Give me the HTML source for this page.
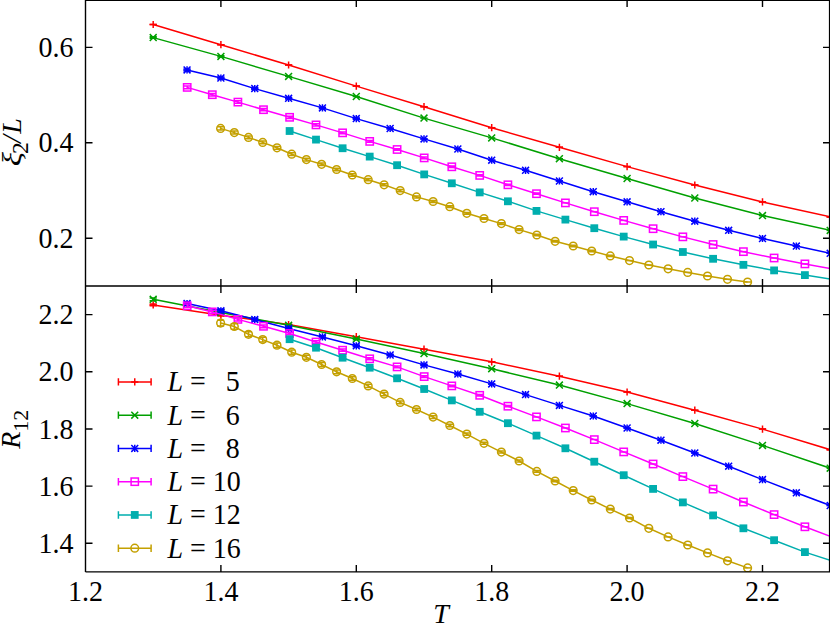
<!DOCTYPE html>
<html><head><meta charset="utf-8"><title>plot</title>
<style>html,body{margin:0;padding:0;background:#fff;}body{width:830px;height:623px;overflow:hidden;font-family:"Liberation Serif",serif;}</style>
</head><body>
<svg width="830" height="623" viewBox="0 0 830 623" style="display:block">
<rect width="830" height="623" fill="#fff"/>
<defs><clipPath id="ct"><rect x="85.5" y="0" width="744.5" height="286"/></clipPath><clipPath id="cb"><rect x="85.5" y="286" width="744.5" height="285.9"/></clipPath></defs>
<g clip-path="url(#ct)"><g stroke="#ff0000" stroke-width="1.5" fill="none"><polyline points="153.2,24.5 220.9,44.7 288.6,65 356.3,86.1 424,106.7 491.7,127.7 559.4,147.3 627.1,166.6 694.8,185 762.5,201.9 830.2,216.9"/><path d="M149.6 24.5H156.8"/><path d="M149.6 24.5H156.8M153.2 20.9V28.1"/><path d="M217.3 44.7H224.5"/><path d="M217.3 44.7H224.5M220.9 41.1V48.3"/><path d="M285 65H292.2"/><path d="M285 65H292.2M288.6 61.4V68.6"/><path d="M352.7 86.1H359.9"/><path d="M352.7 86.1H359.9M356.3 82.5V89.7"/><path d="M420.4 106.7H427.6"/><path d="M420.4 106.7H427.6M424 103.1V110.3"/><path d="M488.1 127.7H495.3"/><path d="M488.1 127.7H495.3M491.7 124.1V131.3"/><path d="M555.8 147.3H563"/><path d="M555.8 147.3H563M559.4 143.7V150.9"/><path d="M623.5 166.6H630.7"/><path d="M623.5 166.6H630.7M627.1 163V170.2"/><path d="M691.2 185H698.4"/><path d="M691.2 185H698.4M694.8 181.4V188.6"/><path d="M758.9 201.9H766.1"/><path d="M758.9 201.9H766.1M762.5 198.3V205.5"/><path d="M826.6 216.9H833.8"/><path d="M826.6 216.9H833.8M830.2 213.3V220.5"/></g>
<g stroke="#00a000" stroke-width="1.5" fill="none"><polyline points="153.2,37.6 220.9,56.4 288.6,76.4 356.3,96.5 424,118.1 491.7,137.9 559.4,158.7 627.1,178.5 694.8,198 762.5,215.6 830.2,230.4"/><path d="M149.6 36.84H156.8M149.6 38.36H156.8M153.2 36.84V38.36"/><path d="M149.75 34.15L156.65 41.05M149.75 41.05L156.65 34.15"/><path d="M217.3 55.75H224.5M217.3 57.05H224.5M220.9 55.75V57.05"/><path d="M217.45 52.95L224.35 59.85M217.45 59.85L224.35 52.95"/><path d="M285 76.4H292.2"/><path d="M285.15 72.95L292.05 79.85M285.15 79.85L292.05 72.95"/><path d="M352.7 96.5H359.9"/><path d="M352.85 93.05L359.75 99.95M352.85 99.95L359.75 93.05"/><path d="M420.4 118.1H427.6"/><path d="M420.55 114.65L427.45 121.55M420.55 121.55L427.45 114.65"/><path d="M488.1 137.9H495.3"/><path d="M488.25 134.45L495.15 141.35M488.25 141.35L495.15 134.45"/><path d="M555.8 158.7H563"/><path d="M555.95 155.25L562.85 162.15M555.95 162.15L562.85 155.25"/><path d="M623.5 178.5H630.7"/><path d="M623.65 175.05L630.55 181.95M623.65 181.95L630.55 175.05"/><path d="M691.2 198H698.4"/><path d="M691.35 194.55L698.25 201.45M691.35 201.45L698.25 194.55"/><path d="M758.9 215.6H766.1"/><path d="M759.05 212.15L765.95 219.05M759.05 219.05L765.95 212.15"/><path d="M826.6 230.4H833.8"/><path d="M826.75 226.95L833.65 233.85M826.75 233.85L833.65 226.95"/></g>
<g stroke="#0000ff" stroke-width="1.5" fill="none"><polyline points="187.05,69.9 220.9,78 254.75,88.6 288.6,98.3 322.45,107.9 356.3,118.6 390.15,128.5 424,138.9 457.85,149 491.7,160.2 525.55,170.3 559.4,181 593.25,191.7 627.1,201.8 660.95,211.7 694.8,221.2 728.65,230.3 762.5,238.5 796.35,246.1 830.2,253.3"/><path d="M183.45 68.9H190.65M183.45 70.9H190.65M187.05 68.9V70.9"/><path d="M183.45 69.9H190.65M187.05 66.3V73.5"/><path d="M183.6 66.45L190.5 73.35M183.6 73.35L190.5 66.45"/><path d="M217.3 77.08H224.5M217.3 78.92H224.5M220.9 77.08V78.92"/><path d="M217.3 78H224.5M220.9 74.4V81.6"/><path d="M217.45 74.55L224.35 81.45M217.45 81.45L224.35 74.55"/><path d="M251.15 87.75H258.35M251.15 89.45H258.35M254.75 87.75V89.45"/><path d="M251.15 88.6H258.35M254.75 85V92.2"/><path d="M251.3 85.15L258.2 92.05M251.3 92.05L258.2 85.15"/><path d="M285 97.51H292.2M285 99.09H292.2M288.6 97.51V99.09"/><path d="M285 98.3H292.2M288.6 94.7V101.9"/><path d="M285.15 94.85L292.05 101.75M285.15 101.75L292.05 94.85"/><path d="M318.85 107.17H326.05M318.85 108.63H326.05M322.45 107.17V108.63"/><path d="M318.85 107.9H326.05M322.45 104.3V111.5"/><path d="M319 104.45L325.9 111.35M319 111.35L325.9 104.45"/><path d="M352.7 117.93H359.9M352.7 119.27H359.9M356.3 117.93V119.27"/><path d="M352.7 118.6H359.9M356.3 115V122.2"/><path d="M352.85 115.15L359.75 122.05M352.85 122.05L359.75 115.15"/><path d="M386.55 127.88H393.75M386.55 129.12H393.75M390.15 127.88V129.12"/><path d="M386.55 128.5H393.75M390.15 124.9V132.1"/><path d="M386.7 125.05L393.6 131.95M386.7 131.95L393.6 125.05"/><path d="M420.4 138.9H427.6"/><path d="M420.4 138.9H427.6M424 135.3V142.5"/><path d="M420.55 135.45L427.45 142.35M420.55 142.35L427.45 135.45"/><path d="M454.25 149H461.45"/><path d="M454.25 149H461.45M457.85 145.4V152.6"/><path d="M454.4 145.55L461.3 152.45M454.4 152.45L461.3 145.55"/><path d="M488.1 160.2H495.3"/><path d="M488.1 160.2H495.3M491.7 156.6V163.8"/><path d="M488.25 156.75L495.15 163.65M488.25 163.65L495.15 156.75"/><path d="M521.95 170.3H529.15"/><path d="M521.95 170.3H529.15M525.55 166.7V173.9"/><path d="M522.1 166.85L529 173.75M522.1 173.75L529 166.85"/><path d="M555.8 181H563"/><path d="M555.8 181H563M559.4 177.4V184.6"/><path d="M555.95 177.55L562.85 184.45M555.95 184.45L562.85 177.55"/><path d="M589.65 191.7H596.85"/><path d="M589.65 191.7H596.85M593.25 188.1V195.3"/><path d="M589.8 188.25L596.7 195.15M589.8 195.15L596.7 188.25"/><path d="M623.5 201.8H630.7"/><path d="M623.5 201.8H630.7M627.1 198.2V205.4"/><path d="M623.65 198.35L630.55 205.25M623.65 205.25L630.55 198.35"/><path d="M657.35 211.7H664.55"/><path d="M657.35 211.7H664.55M660.95 208.1V215.3"/><path d="M657.5 208.25L664.4 215.15M657.5 215.15L664.4 208.25"/><path d="M691.2 221.2H698.4"/><path d="M691.2 221.2H698.4M694.8 217.6V224.8"/><path d="M691.35 217.75L698.25 224.65M691.35 224.65L698.25 217.75"/><path d="M725.05 230.3H732.25"/><path d="M725.05 230.3H732.25M728.65 226.7V233.9"/><path d="M725.2 226.85L732.1 233.75M725.2 233.75L732.1 226.85"/><path d="M758.9 238.5H766.1"/><path d="M758.9 238.5H766.1M762.5 234.9V242.1"/><path d="M759.05 235.05L765.95 241.95M759.05 241.95L765.95 235.05"/><path d="M792.75 246.1H799.95"/><path d="M792.75 246.1H799.95M796.35 242.5V249.7"/><path d="M792.9 242.65L799.8 249.55M792.9 249.55L799.8 242.65"/><path d="M826.6 253.3H833.8"/><path d="M826.6 253.3H833.8M830.2 249.7V256.9"/><path d="M826.75 249.85L833.65 256.75M826.75 256.75L833.65 249.85"/></g>
<g stroke="#ff00ff" stroke-width="1.5" fill="none"><polyline points="187.2,87.4 212.3,94.7 237.9,102.1 263.5,109.7 289.6,117.3 316,124.9 342.6,132.85 369.7,141.4 397.1,149.5 424.2,157.9 451.8,166.8 479.7,175.4 507.9,184.8 536.5,193.7 565.4,202.9 594.3,211.7 623.7,220.4 653.1,228.7 682.85,236.85 713.1,244.5 743.4,251.65 774.1,258 804.9,263.9 836,269.5"/><path d="M183.6 86H190.8M183.6 88.8H190.8M187.2 86V88.8"/><rect x="183.55" y="83.75" width="7.3" height="7.3" fill="none"/><path d="M208.7 93.38H215.9M208.7 96.02H215.9M212.3 93.38V96.02"/><rect x="208.65" y="91.05" width="7.3" height="7.3" fill="none"/><path d="M234.3 100.86H241.5M234.3 103.34H241.5M237.9 100.86V103.34"/><rect x="234.25" y="98.45" width="7.3" height="7.3" fill="none"/><path d="M259.9 108.53H267.1M259.9 110.87H267.1M263.5 108.53V110.87"/><rect x="259.85" y="106.05" width="7.3" height="7.3" fill="none"/><path d="M286 116.2H293.2M286 118.4H293.2M289.6 116.2V118.4"/><rect x="285.95" y="113.65" width="7.3" height="7.3" fill="none"/><path d="M312.4 123.87H319.6M312.4 125.93H319.6M316 123.87V125.93"/><rect x="312.35" y="121.25" width="7.3" height="7.3" fill="none"/><path d="M339 131.88H346.2M339 133.82H346.2M342.6 131.88V133.82"/><rect x="338.95" y="129.2" width="7.3" height="7.3" fill="none"/><path d="M366.1 140.49H373.3M366.1 142.31H373.3M369.7 140.49V142.31"/><rect x="366.05" y="137.75" width="7.3" height="7.3" fill="none"/><path d="M393.5 148.65H400.7M393.5 150.35H400.7M397.1 148.65V150.35"/><rect x="393.45" y="145.85" width="7.3" height="7.3" fill="none"/><path d="M420.6 157.1H427.8M420.6 158.7H427.8M424.2 157.1V158.7"/><rect x="420.55" y="154.25" width="7.3" height="7.3" fill="none"/><path d="M448.2 166.05H455.4M448.2 167.55H455.4M451.8 166.05V167.55"/><rect x="448.15" y="163.15" width="7.3" height="7.3" fill="none"/><path d="M476.1 174.7H483.3M476.1 176.1H483.3M479.7 174.7V176.1"/><rect x="476.05" y="171.75" width="7.3" height="7.3" fill="none"/><path d="M504.3 184.14H511.5M504.3 185.46H511.5M507.9 184.14V185.46"/><rect x="504.25" y="181.15" width="7.3" height="7.3" fill="none"/><path d="M532.9 193.09H540.1M532.9 194.31H540.1M536.5 193.09V194.31"/><rect x="532.85" y="190.05" width="7.3" height="7.3" fill="none"/><path d="M561.8 202.9H569"/><rect x="561.75" y="199.25" width="7.3" height="7.3" fill="none"/><path d="M590.7 211.7H597.9"/><rect x="590.65" y="208.05" width="7.3" height="7.3" fill="none"/><path d="M620.1 220.4H627.3"/><rect x="620.05" y="216.75" width="7.3" height="7.3" fill="none"/><path d="M649.5 228.7H656.7"/><rect x="649.45" y="225.05" width="7.3" height="7.3" fill="none"/><path d="M679.25 236.85H686.45"/><rect x="679.2" y="233.2" width="7.3" height="7.3" fill="none"/><path d="M709.5 244.5H716.7"/><rect x="709.45" y="240.85" width="7.3" height="7.3" fill="none"/><path d="M739.8 251.65H747"/><rect x="739.75" y="248" width="7.3" height="7.3" fill="none"/><path d="M770.5 258H777.7"/><rect x="770.45" y="254.35" width="7.3" height="7.3" fill="none"/><path d="M801.3 263.9H808.5"/><rect x="801.25" y="260.25" width="7.3" height="7.3" fill="none"/><path d="M832.4 269.5H839.6"/><rect x="832.35" y="265.85" width="7.3" height="7.3" fill="none"/></g>
<g stroke="#00aeae" stroke-width="1.5" fill="none"><polyline points="289.6,131 316,139.6 342.6,148.25 369.7,156.6 397.1,165.2 424.2,174.4 451.8,183.3 479.7,192.4 507.9,201.3 536.5,210.9 565.4,219.6 594.3,228.2 623.7,236.6 653.1,244.5 682.85,252 713.1,258.8 743.4,264.85 774.1,270.4 804.9,275.1 836,279.8"/><path d="M286 130.29H293.2M286 131.71H293.2M289.6 130.29V131.71"/><rect x="285.7" y="127.1" width="7.8" height="7.8" fill="#00aeae" stroke="none"/><path d="M312.4 138.94H319.6M312.4 140.26H319.6M316 138.94V140.26"/><rect x="312.1" y="135.7" width="7.8" height="7.8" fill="#00aeae" stroke="none"/><path d="M339 147.63H346.2M339 148.87H346.2M342.6 147.63V148.87"/><rect x="338.7" y="144.35" width="7.8" height="7.8" fill="#00aeae" stroke="none"/><path d="M366.1 156.6H373.3"/><rect x="365.8" y="152.7" width="7.8" height="7.8" fill="#00aeae" stroke="none"/><path d="M393.5 165.2H400.7"/><rect x="393.2" y="161.3" width="7.8" height="7.8" fill="#00aeae" stroke="none"/><path d="M420.6 174.4H427.8"/><rect x="420.3" y="170.5" width="7.8" height="7.8" fill="#00aeae" stroke="none"/><path d="M448.2 183.3H455.4"/><rect x="447.9" y="179.4" width="7.8" height="7.8" fill="#00aeae" stroke="none"/><path d="M476.1 192.4H483.3"/><rect x="475.8" y="188.5" width="7.8" height="7.8" fill="#00aeae" stroke="none"/><path d="M504.3 201.3H511.5"/><rect x="504" y="197.4" width="7.8" height="7.8" fill="#00aeae" stroke="none"/><path d="M532.9 210.9H540.1"/><rect x="532.6" y="207" width="7.8" height="7.8" fill="#00aeae" stroke="none"/><path d="M561.8 219.6H569"/><rect x="561.5" y="215.7" width="7.8" height="7.8" fill="#00aeae" stroke="none"/><path d="M590.7 228.2H597.9"/><rect x="590.4" y="224.3" width="7.8" height="7.8" fill="#00aeae" stroke="none"/><path d="M620.1 236.6H627.3"/><rect x="619.8" y="232.7" width="7.8" height="7.8" fill="#00aeae" stroke="none"/><path d="M649.5 244.5H656.7"/><rect x="649.2" y="240.6" width="7.8" height="7.8" fill="#00aeae" stroke="none"/><path d="M679.25 252H686.45"/><rect x="678.95" y="248.1" width="7.8" height="7.8" fill="#00aeae" stroke="none"/><path d="M709.5 258.8H716.7"/><rect x="709.2" y="254.9" width="7.8" height="7.8" fill="#00aeae" stroke="none"/><path d="M739.8 264.85H747"/><rect x="739.5" y="260.95" width="7.8" height="7.8" fill="#00aeae" stroke="none"/><path d="M770.5 270.4H777.7"/><rect x="770.2" y="266.5" width="7.8" height="7.8" fill="#00aeae" stroke="none"/><path d="M801.3 275.1H808.5"/><rect x="801" y="271.2" width="7.8" height="7.8" fill="#00aeae" stroke="none"/><path d="M832.4 279.8H839.6"/><rect x="832.1" y="275.9" width="7.8" height="7.8" fill="#00aeae" stroke="none"/></g>
<g stroke="#c4a000" stroke-width="1.5" fill="none"><polyline points="220.6,128.4 234.3,132.6 248.5,137.4 262.7,142.4 277,147.8 291.7,154.2 306.4,159.6 321.6,164.3 336.6,169.5 352.3,175 368.2,179.7 384.1,184.8 400.2,190.6 416.5,196.9 433.1,201.5 449.8,206.7 466.8,213.3 484,218.5 501.4,223.6 519.1,229.6 536.8,235 555.1,241.3 573.2,246 591.7,251 610.3,255.9 629.5,260.6 648.8,265 668.1,268.8 687.7,272.4 707.5,276 727.5,279.3 747.6,282"/><path d="M217 126.83H224.2M217 129.97H224.2M220.6 126.83V129.97"/><circle cx="220.6" cy="128.4" r="3.85" fill="none"/><path d="M230.7 131.08H237.9M230.7 134.12H237.9M234.3 131.08V134.12"/><circle cx="234.3" cy="132.6" r="3.85" fill="none"/><path d="M244.9 135.93H252.1M244.9 138.87H252.1M248.5 135.93V138.87"/><circle cx="248.5" cy="137.4" r="3.85" fill="none"/><path d="M259.1 140.98H266.3M259.1 143.82H266.3M262.7 140.98V143.82"/><circle cx="262.7" cy="142.4" r="3.85" fill="none"/><path d="M273.4 146.43H280.6M273.4 149.17H280.6M277 146.43V149.17"/><circle cx="277" cy="147.8" r="3.85" fill="none"/><path d="M288.1 152.87H295.3M288.1 155.53H295.3M291.7 152.87V155.53"/><circle cx="291.7" cy="154.2" r="3.85" fill="none"/><path d="M302.8 158.32H310M302.8 160.88H310M306.4 158.32V160.88"/><circle cx="306.4" cy="159.6" r="3.85" fill="none"/><path d="M318 163.06H325.2M318 165.54H325.2M321.6 163.06V165.54"/><circle cx="321.6" cy="164.3" r="3.85" fill="none"/><path d="M333 168.31H340.2M333 170.69H340.2M336.6 168.31V170.69"/><circle cx="336.6" cy="169.5" r="3.85" fill="none"/><path d="M348.7 173.85H355.9M348.7 176.15H355.9M352.3 173.85V176.15"/><circle cx="352.3" cy="175" r="3.85" fill="none"/><path d="M364.6 178.59H371.8M364.6 180.81H371.8M368.2 178.59V180.81"/><circle cx="368.2" cy="179.7" r="3.85" fill="none"/><path d="M380.5 183.73H387.7M380.5 185.87H387.7M384.1 183.73V185.87"/><circle cx="384.1" cy="184.8" r="3.85" fill="none"/><path d="M396.6 189.57H403.8M396.6 191.63H403.8M400.2 189.57V191.63"/><circle cx="400.2" cy="190.6" r="3.85" fill="none"/><path d="M412.9 195.91H420.1M412.9 197.89H420.1M416.5 195.91V197.89"/><circle cx="416.5" cy="196.9" r="3.85" fill="none"/><path d="M429.5 200.55H436.7M429.5 202.45H436.7M433.1 200.55V202.45"/><circle cx="433.1" cy="201.5" r="3.85" fill="none"/><path d="M446.2 205.79H453.4M446.2 207.61H453.4M449.8 205.79V207.61"/><circle cx="449.8" cy="206.7" r="3.85" fill="none"/><path d="M463.2 212.42H470.4M463.2 214.18H470.4M466.8 212.42V214.18"/><circle cx="466.8" cy="213.3" r="3.85" fill="none"/><path d="M480.4 217.66H487.6M480.4 219.34H487.6M484 217.66V219.34"/><circle cx="484" cy="218.5" r="3.85" fill="none"/><path d="M497.8 222.79H505M497.8 224.41H505M501.4 222.79V224.41"/><circle cx="501.4" cy="223.6" r="3.85" fill="none"/><path d="M515.5 228.82H522.7M515.5 230.38H522.7M519.1 228.82V230.38"/><circle cx="519.1" cy="229.6" r="3.85" fill="none"/><path d="M533.2 234.26H540.4M533.2 235.74H540.4M536.8 234.26V235.74"/><circle cx="536.8" cy="235" r="3.85" fill="none"/><path d="M551.5 240.59H558.7M551.5 242.01H558.7M555.1 240.59V242.01"/><circle cx="555.1" cy="241.3" r="3.85" fill="none"/><path d="M569.6 245.32H576.8M569.6 246.68H576.8M573.2 245.32V246.68"/><circle cx="573.2" cy="246" r="3.85" fill="none"/><path d="M588.1 250.35H595.3M588.1 251.65H595.3M591.7 250.35V251.65"/><circle cx="591.7" cy="251" r="3.85" fill="none"/><path d="M606.7 255.27H613.9M606.7 256.53H613.9M610.3 255.27V256.53"/><circle cx="610.3" cy="255.9" r="3.85" fill="none"/><path d="M625.9 260.6H633.1"/><circle cx="629.5" cy="260.6" r="3.85" fill="none"/><path d="M645.2 265H652.4"/><circle cx="648.8" cy="265" r="3.85" fill="none"/><path d="M664.5 268.8H671.7"/><circle cx="668.1" cy="268.8" r="3.85" fill="none"/><path d="M684.1 272.4H691.3"/><circle cx="687.7" cy="272.4" r="3.85" fill="none"/><path d="M703.9 276H711.1"/><circle cx="707.5" cy="276" r="3.85" fill="none"/><path d="M723.9 279.3H731.1"/><circle cx="727.5" cy="279.3" r="3.85" fill="none"/><path d="M744 282H751.2"/><circle cx="747.6" cy="282" r="3.85" fill="none"/></g>
</g>
<g clip-path="url(#cb)"><g stroke="#ff0000" stroke-width="1.5" fill="none"><polyline points="153.2,304.9 220.9,315.2 288.6,324.6 356.3,336.7 424,349.2 491.7,361.8 559.4,376.2 627.1,392 694.8,410.2 762.5,429.1 830.2,449.7"/><path d="M149.6 304.01H156.8M149.6 305.79H156.8M153.2 304.01V305.79"/><path d="M149.6 304.9H156.8M153.2 301.3V308.5"/><path d="M217.3 314.48H224.5M217.3 315.92H224.5M220.9 314.48V315.92"/><path d="M217.3 315.2H224.5M220.9 311.6V318.8"/><path d="M285 324.6H292.2"/><path d="M285 324.6H292.2M288.6 321V328.2"/><path d="M352.7 336.7H359.9"/><path d="M352.7 336.7H359.9M356.3 333.1V340.3"/><path d="M420.4 349.2H427.6"/><path d="M420.4 349.2H427.6M424 345.6V352.8"/><path d="M488.1 361.8H495.3"/><path d="M488.1 361.8H495.3M491.7 358.2V365.4"/><path d="M555.8 376.2H563"/><path d="M555.8 376.2H563M559.4 372.6V379.8"/><path d="M623.5 392H630.7"/><path d="M623.5 392H630.7M627.1 388.4V395.6"/><path d="M691.2 410.2H698.4"/><path d="M691.2 410.2H698.4M694.8 406.6V413.8"/><path d="M758.9 429.1H766.1"/><path d="M758.9 429.1H766.1M762.5 425.5V432.7"/><path d="M826.6 449.7H833.8"/><path d="M826.6 449.7H833.8M830.2 446.1V453.3"/></g>
<g stroke="#00a000" stroke-width="1.5" fill="none"><polyline points="153.2,299.3 220.9,312.5 288.6,325.3 356.3,339 424,353.5 491.7,368.7 559.4,385.1 627.1,403.6 694.8,423.5 762.5,445.4 830.2,468.2"/><path d="M149.6 297.96H156.8M149.6 300.64H156.8M153.2 297.96V300.64"/><path d="M149.75 295.85L156.65 302.75M149.75 302.75L156.65 295.85"/><path d="M217.3 311.42H224.5M217.3 313.58H224.5M220.9 311.42V313.58"/><path d="M217.45 309.05L224.35 315.95M217.45 315.95L224.35 309.05"/><path d="M285 324.44H292.2M285 326.16H292.2M288.6 324.44V326.16"/><path d="M285.15 321.85L292.05 328.75M285.15 328.75L292.05 321.85"/><path d="M352.7 338.31H359.9M352.7 339.69H359.9M356.3 338.31V339.69"/><path d="M352.85 335.55L359.75 342.45M352.85 342.45L359.75 335.55"/><path d="M420.4 353.5H427.6"/><path d="M420.55 350.05L427.45 356.95M420.55 356.95L427.45 350.05"/><path d="M488.1 368.7H495.3"/><path d="M488.25 365.25L495.15 372.15M488.25 372.15L495.15 365.25"/><path d="M555.8 385.1H563"/><path d="M555.95 381.65L562.85 388.55M555.95 388.55L562.85 381.65"/><path d="M623.5 403.6H630.7"/><path d="M623.65 400.15L630.55 407.05M623.65 407.05L630.55 400.15"/><path d="M691.2 423.5H698.4"/><path d="M691.35 420.05L698.25 426.95M691.35 426.95L698.25 420.05"/><path d="M758.9 445.4H766.1"/><path d="M759.05 441.95L765.95 448.85M759.05 448.85L765.95 441.95"/><path d="M826.6 468.2H833.8"/><path d="M826.75 464.75L833.65 471.65M826.75 471.65L833.65 464.75"/></g>
<g stroke="#0000ff" stroke-width="1.5" fill="none"><polyline points="187.05,303.5 220.9,310.8 254.75,319.6 288.6,328.5 322.45,336.9 356.3,345.8 390.15,355 424,364.9 457.85,374 491.7,383.9 525.55,394.6 559.4,405.4 593.25,416 627.1,428 660.95,440.2 694.8,453 728.65,466.2 762.5,479.6 796.35,492.8 830.2,505.5"/><path d="M183.45 301.9H190.65M183.45 305.1H190.65M187.05 301.9V305.1"/><path d="M183.45 303.5H190.65M187.05 299.9V307.1"/><path d="M183.6 300.05L190.5 306.95M183.6 306.95L190.5 300.05"/><path d="M217.3 309.37H224.5M217.3 312.23H224.5M220.9 309.37V312.23"/><path d="M217.3 310.8H224.5M220.9 307.2V314.4"/><path d="M217.45 307.35L224.35 314.25M217.45 314.25L224.35 307.35"/><path d="M251.15 318.32H258.35M251.15 320.88H258.35M254.75 318.32V320.88"/><path d="M251.15 319.6H258.35M254.75 316V323.2"/><path d="M251.3 316.15L258.2 323.05M251.3 323.05L258.2 316.15"/><path d="M285 327.35H292.2M285 329.65H292.2M288.6 327.35V329.65"/><path d="M285 328.5H292.2M288.6 324.9V332.1"/><path d="M285.15 325.05L292.05 331.95M285.15 331.95L292.05 325.05"/><path d="M318.85 335.87H326.05M318.85 337.93H326.05M322.45 335.87V337.93"/><path d="M318.85 336.9H326.05M322.45 333.3V340.5"/><path d="M319 333.45L325.9 340.35M319 340.35L325.9 333.45"/><path d="M352.7 344.88H359.9M352.7 346.72H359.9M356.3 344.88V346.72"/><path d="M352.7 345.8H359.9M356.3 342.2V349.4"/><path d="M352.85 342.35L359.75 349.25M352.85 349.25L359.75 342.35"/><path d="M386.55 354.17H393.75M386.55 355.83H393.75M390.15 354.17V355.83"/><path d="M386.55 355H393.75M390.15 351.4V358.6"/><path d="M386.7 351.55L393.6 358.45M386.7 358.45L393.6 351.55"/><path d="M420.4 364.16H427.6M420.4 365.64H427.6M424 364.16V365.64"/><path d="M420.4 364.9H427.6M424 361.3V368.5"/><path d="M420.55 361.45L427.45 368.35M420.55 368.35L427.45 361.45"/><path d="M454.25 373.34H461.45M454.25 374.66H461.45M457.85 373.34V374.66"/><path d="M454.25 374H461.45M457.85 370.4V377.6"/><path d="M454.4 370.55L461.3 377.45M454.4 377.45L461.3 370.55"/><path d="M488.1 383.9H495.3"/><path d="M488.1 383.9H495.3M491.7 380.3V387.5"/><path d="M488.25 380.45L495.15 387.35M488.25 387.35L495.15 380.45"/><path d="M521.95 394.6H529.15"/><path d="M521.95 394.6H529.15M525.55 391V398.2"/><path d="M522.1 391.15L529 398.05M522.1 398.05L529 391.15"/><path d="M555.8 405.4H563"/><path d="M555.8 405.4H563M559.4 401.8V409"/><path d="M555.95 401.95L562.85 408.85M555.95 408.85L562.85 401.95"/><path d="M589.65 416H596.85"/><path d="M589.65 416H596.85M593.25 412.4V419.6"/><path d="M589.8 412.55L596.7 419.45M589.8 419.45L596.7 412.55"/><path d="M623.5 428H630.7"/><path d="M623.5 428H630.7M627.1 424.4V431.6"/><path d="M623.65 424.55L630.55 431.45M623.65 431.45L630.55 424.55"/><path d="M657.35 440.2H664.55"/><path d="M657.35 440.2H664.55M660.95 436.6V443.8"/><path d="M657.5 436.75L664.4 443.65M657.5 443.65L664.4 436.75"/><path d="M691.2 453H698.4"/><path d="M691.2 453H698.4M694.8 449.4V456.6"/><path d="M691.35 449.55L698.25 456.45M691.35 456.45L698.25 449.55"/><path d="M725.05 466.2H732.25"/><path d="M725.05 466.2H732.25M728.65 462.6V469.8"/><path d="M725.2 462.75L732.1 469.65M725.2 469.65L732.1 462.75"/><path d="M758.9 479.6H766.1"/><path d="M758.9 479.6H766.1M762.5 476V483.2"/><path d="M759.05 476.15L765.95 483.05M759.05 483.05L765.95 476.15"/><path d="M792.75 492.8H799.95"/><path d="M792.75 492.8H799.95M796.35 489.2V496.4"/><path d="M792.9 489.35L799.8 496.25M792.9 496.25L799.8 489.35"/><path d="M826.6 505.5H833.8"/><path d="M826.6 505.5H833.8M830.2 501.9V509.1"/><path d="M826.75 502.05L833.65 508.95M826.75 508.95L833.65 502.05"/></g>
<g stroke="#ff00ff" stroke-width="1.5" fill="none"><polyline points="187.2,305.8 212.3,311.9 237.9,319.4 263.5,326.3 289.6,333.5 316,342 342.6,350.2 369.7,358.8 397.1,366.9 424.2,376.6 451.8,385.9 479.7,395.3 507.9,406.2 536.5,416.9 565.4,428 594.3,439.6 623.7,451.9 653.1,464 682.85,476.6 713.1,489.1 743.4,502 774.1,514.6 804.9,526.8 836,538.5"/><path d="M183.6 304H190.8M183.6 307.6H190.8M187.2 304V307.6"/><rect x="183.55" y="302.15" width="7.3" height="7.3" fill="none"/><path d="M208.7 310.24H215.9M208.7 313.56H215.9M212.3 310.24V313.56"/><rect x="208.65" y="308.25" width="7.3" height="7.3" fill="none"/><path d="M234.3 317.87H241.5M234.3 320.93H241.5M237.9 317.87V320.93"/><rect x="234.25" y="315.75" width="7.3" height="7.3" fill="none"/><path d="M259.9 324.9H267.1M259.9 327.7H267.1M263.5 324.9V327.7"/><rect x="259.85" y="322.65" width="7.3" height="7.3" fill="none"/><path d="M286 332.21H293.2M286 334.79H293.2M289.6 332.21V334.79"/><rect x="285.95" y="329.85" width="7.3" height="7.3" fill="none"/><path d="M312.4 340.82H319.6M312.4 343.18H319.6M316 340.82V343.18"/><rect x="312.35" y="338.35" width="7.3" height="7.3" fill="none"/><path d="M339 349.11H346.2M339 351.29H346.2M342.6 349.11V351.29"/><rect x="338.95" y="346.55" width="7.3" height="7.3" fill="none"/><path d="M366.1 357.81H373.3M366.1 359.79H373.3M369.7 357.81V359.79"/><rect x="366.05" y="355.15" width="7.3" height="7.3" fill="none"/><path d="M393.5 365.99H400.7M393.5 367.81H400.7M397.1 365.99V367.81"/><rect x="393.45" y="363.25" width="7.3" height="7.3" fill="none"/><path d="M420.6 375.77H427.8M420.6 377.43H427.8M424.2 375.77V377.43"/><rect x="420.55" y="372.95" width="7.3" height="7.3" fill="none"/><path d="M448.2 385.14H455.4M448.2 386.66H455.4M451.8 385.14V386.66"/><rect x="448.15" y="382.25" width="7.3" height="7.3" fill="none"/><path d="M476.1 394.6H483.3M476.1 396H483.3M479.7 394.6V396"/><rect x="476.05" y="391.65" width="7.3" height="7.3" fill="none"/><path d="M504.3 405.57H511.5M504.3 406.83H511.5M507.9 405.57V406.83"/><rect x="504.25" y="402.55" width="7.3" height="7.3" fill="none"/><path d="M532.9 416.9H540.1"/><rect x="532.85" y="413.25" width="7.3" height="7.3" fill="none"/><path d="M561.8 428H569"/><rect x="561.75" y="424.35" width="7.3" height="7.3" fill="none"/><path d="M590.7 439.6H597.9"/><rect x="590.65" y="435.95" width="7.3" height="7.3" fill="none"/><path d="M620.1 451.9H627.3"/><rect x="620.05" y="448.25" width="7.3" height="7.3" fill="none"/><path d="M649.5 464H656.7"/><rect x="649.45" y="460.35" width="7.3" height="7.3" fill="none"/><path d="M679.25 476.6H686.45"/><rect x="679.2" y="472.95" width="7.3" height="7.3" fill="none"/><path d="M709.5 489.1H716.7"/><rect x="709.45" y="485.45" width="7.3" height="7.3" fill="none"/><path d="M739.8 502H747"/><rect x="739.75" y="498.35" width="7.3" height="7.3" fill="none"/><path d="M770.5 514.6H777.7"/><rect x="770.45" y="510.95" width="7.3" height="7.3" fill="none"/><path d="M801.3 526.8H808.5"/><rect x="801.25" y="523.15" width="7.3" height="7.3" fill="none"/><path d="M832.4 538.5H839.6"/><rect x="832.35" y="534.85" width="7.3" height="7.3" fill="none"/></g>
<g stroke="#00aeae" stroke-width="1.5" fill="none"><polyline points="289.6,339.2 316,347.7 342.6,357.7 369.7,367.7 397.1,378.3 424.2,389 451.8,400.4 479.7,411.8 507.9,423.2 536.5,435.6 565.4,448.3 594.3,461.7 623.7,475.2 653.1,488.9 682.85,502.4 713.1,515.4 743.4,528.3 774.1,540.2 804.9,552.1 836,562.2"/><path d="M286 338.05H293.2M286 340.35H293.2M289.6 338.05V340.35"/><rect x="285.7" y="335.3" width="7.8" height="7.8" fill="#00aeae" stroke="none"/><path d="M312.4 346.65H319.6M312.4 348.75H319.6M316 346.65V348.75"/><rect x="312.1" y="343.8" width="7.8" height="7.8" fill="#00aeae" stroke="none"/><path d="M339 356.73H346.2M339 358.67H346.2M342.6 356.73V358.67"/><rect x="338.7" y="353.8" width="7.8" height="7.8" fill="#00aeae" stroke="none"/><path d="M366.1 366.82H373.3M366.1 368.58H373.3M369.7 366.82V368.58"/><rect x="365.8" y="363.8" width="7.8" height="7.8" fill="#00aeae" stroke="none"/><path d="M393.5 377.49H400.7M393.5 379.11H400.7M397.1 377.49V379.11"/><rect x="393.2" y="374.4" width="7.8" height="7.8" fill="#00aeae" stroke="none"/><path d="M420.6 388.26H427.8M420.6 389.74H427.8M424.2 388.26V389.74"/><rect x="420.3" y="385.1" width="7.8" height="7.8" fill="#00aeae" stroke="none"/><path d="M448.2 399.72H455.4M448.2 401.08H455.4M451.8 399.72V401.08"/><rect x="447.9" y="396.5" width="7.8" height="7.8" fill="#00aeae" stroke="none"/><path d="M476.1 411.18H483.3M476.1 412.42H483.3M479.7 411.18V412.42"/><rect x="475.8" y="407.9" width="7.8" height="7.8" fill="#00aeae" stroke="none"/><path d="M504.3 423.2H511.5"/><rect x="504" y="419.3" width="7.8" height="7.8" fill="#00aeae" stroke="none"/><path d="M532.9 435.6H540.1"/><rect x="532.6" y="431.7" width="7.8" height="7.8" fill="#00aeae" stroke="none"/><path d="M561.8 448.3H569"/><rect x="561.5" y="444.4" width="7.8" height="7.8" fill="#00aeae" stroke="none"/><path d="M590.7 461.7H597.9"/><rect x="590.4" y="457.8" width="7.8" height="7.8" fill="#00aeae" stroke="none"/><path d="M620.1 475.2H627.3"/><rect x="619.8" y="471.3" width="7.8" height="7.8" fill="#00aeae" stroke="none"/><path d="M649.5 488.9H656.7"/><rect x="649.2" y="485" width="7.8" height="7.8" fill="#00aeae" stroke="none"/><path d="M679.25 502.4H686.45"/><rect x="678.95" y="498.5" width="7.8" height="7.8" fill="#00aeae" stroke="none"/><path d="M709.5 515.4H716.7"/><rect x="709.2" y="511.5" width="7.8" height="7.8" fill="#00aeae" stroke="none"/><path d="M739.8 528.3H747"/><rect x="739.5" y="524.4" width="7.8" height="7.8" fill="#00aeae" stroke="none"/><path d="M770.5 540.2H777.7"/><rect x="770.2" y="536.3" width="7.8" height="7.8" fill="#00aeae" stroke="none"/><path d="M801.3 552.1H808.5"/><rect x="801" y="548.2" width="7.8" height="7.8" fill="#00aeae" stroke="none"/><path d="M832.4 562.2H839.6"/><rect x="832.1" y="558.3" width="7.8" height="7.8" fill="#00aeae" stroke="none"/></g>
<g stroke="#c4a000" stroke-width="1.5" fill="none"><polyline points="220.6,323.1 234.3,326.5 248.5,334.3 262.7,339.6 277,345.2 291.7,352.2 306.4,357.3 321.6,364.5 336.6,371.8 352.3,378.5 368.2,385.9 384.1,394.1 400.2,402.4 416.5,409.5 433.1,417.1 449.8,425.5 466.8,434.1 484,443.3 501.4,452.1 519.1,461 536.8,471.4 555.1,481 573.2,490.6 591.7,500 610.3,509.1 629.5,518 648.8,528.3 668.1,536.9 687.7,545 707.5,552.9 727.5,560.8 747.6,567.9"/><path d="M217 320.27H224.2M217 325.93H224.2M220.6 320.27V325.93"/><circle cx="220.6" cy="323.1" r="3.85" fill="none"/><path d="M230.7 323.81H237.9M230.7 329.19H237.9M234.3 323.81V329.19"/><circle cx="234.3" cy="326.5" r="3.85" fill="none"/><path d="M244.9 331.75H252.1M244.9 336.85H252.1M248.5 331.75V336.85"/><circle cx="248.5" cy="334.3" r="3.85" fill="none"/><path d="M259.1 337.18H266.3M259.1 342.02H266.3M262.7 337.18V342.02"/><circle cx="262.7" cy="339.6" r="3.85" fill="none"/><path d="M273.4 342.9H280.6M273.4 347.5H280.6M277 342.9V347.5"/><circle cx="277" cy="345.2" r="3.85" fill="none"/><path d="M288.1 350.03H295.3M288.1 354.37H295.3M291.7 350.03V354.37"/><circle cx="291.7" cy="352.2" r="3.85" fill="none"/><path d="M302.8 355.24H310M302.8 359.36H310M306.4 355.24V359.36"/><circle cx="306.4" cy="357.3" r="3.85" fill="none"/><path d="M318 362.55H325.2M318 366.45H325.2M321.6 362.55V366.45"/><circle cx="321.6" cy="364.5" r="3.85" fill="none"/><path d="M333 369.96H340.2M333 373.64H340.2M336.6 369.96V373.64"/><circle cx="336.6" cy="371.8" r="3.85" fill="none"/><path d="M348.7 376.76H355.9M348.7 380.24H355.9M352.3 376.76V380.24"/><circle cx="352.3" cy="378.5" r="3.85" fill="none"/><path d="M364.6 384.26H371.8M364.6 387.54H371.8M368.2 384.26V387.54"/><circle cx="368.2" cy="385.9" r="3.85" fill="none"/><path d="M380.5 392.55H387.7M380.5 395.65H387.7M384.1 392.55V395.65"/><circle cx="384.1" cy="394.1" r="3.85" fill="none"/><path d="M396.6 400.94H403.8M396.6 403.86H403.8M400.2 400.94V403.86"/><circle cx="400.2" cy="402.4" r="3.85" fill="none"/><path d="M412.9 408.13H420.1M412.9 410.87H420.1M416.5 408.13V410.87"/><circle cx="416.5" cy="409.5" r="3.85" fill="none"/><path d="M429.5 415.81H436.7M429.5 418.39H436.7M433.1 415.81V418.39"/><circle cx="433.1" cy="417.1" r="3.85" fill="none"/><path d="M446.2 424.29H453.4M446.2 426.71H453.4M449.8 424.29V426.71"/><circle cx="449.8" cy="425.5" r="3.85" fill="none"/><path d="M463.2 432.96H470.4M463.2 435.24H470.4M466.8 432.96V435.24"/><circle cx="466.8" cy="434.1" r="3.85" fill="none"/><path d="M480.4 442.23H487.6M480.4 444.37H487.6M484 442.23V444.37"/><circle cx="484" cy="443.3" r="3.85" fill="none"/><path d="M497.8 451.1H505M497.8 453.1H505M501.4 451.1V453.1"/><circle cx="501.4" cy="452.1" r="3.85" fill="none"/><path d="M515.5 460.06H522.7M515.5 461.94H522.7M519.1 460.06V461.94"/><circle cx="519.1" cy="461" r="3.85" fill="none"/><path d="M533.2 470.52H540.4M533.2 472.28H540.4M536.8 470.52V472.28"/><circle cx="536.8" cy="471.4" r="3.85" fill="none"/><path d="M551.5 480.18H558.7M551.5 481.82H558.7M555.1 480.18V481.82"/><circle cx="555.1" cy="481" r="3.85" fill="none"/><path d="M569.6 489.83H576.8M569.6 491.37H576.8M573.2 489.83V491.37"/><circle cx="573.2" cy="490.6" r="3.85" fill="none"/><path d="M588.1 499.28H595.3M588.1 500.72H595.3M591.7 499.28V500.72"/><circle cx="591.7" cy="500" r="3.85" fill="none"/><path d="M606.7 508.43H613.9M606.7 509.77H613.9M610.3 508.43V509.77"/><circle cx="610.3" cy="509.1" r="3.85" fill="none"/><path d="M625.9 517.38H633.1M625.9 518.62H633.1M629.5 517.38V518.62"/><circle cx="629.5" cy="518" r="3.85" fill="none"/><path d="M645.2 528.3H652.4"/><circle cx="648.8" cy="528.3" r="3.85" fill="none"/><path d="M664.5 536.9H671.7"/><circle cx="668.1" cy="536.9" r="3.85" fill="none"/><path d="M684.1 545H691.3"/><circle cx="687.7" cy="545" r="3.85" fill="none"/><path d="M703.9 552.9H711.1"/><circle cx="707.5" cy="552.9" r="3.85" fill="none"/><path d="M723.9 560.8H731.1"/><circle cx="727.5" cy="560.8" r="3.85" fill="none"/><path d="M744 567.9H751.2"/><circle cx="747.6" cy="567.9" r="3.85" fill="none"/></g>
</g>
<path d="M85.5 0V571.9M85.5 286.0H830M85.5 571.9H830M85.5 0.3H830M829.6 0V571.9M220.9 0V7M220.9 279.0V293.0M220.9 564.9V571.9M356.3 0V7M356.3 279.0V293.0M356.3 564.9V571.9M491.7 0V7M491.7 279.0V293.0M491.7 564.9V571.9M627.1 0V7M627.1 279.0V293.0M627.1 564.9V571.9M762.5 0V7M762.5 279.0V293.0M762.5 564.9V571.9M85.5 238.2h7M830 238.2h-7M85.5 142.8h7M830 142.8h-7M85.5 47.4h7M830 47.4h-7M85.5 543.31h7M830 543.31h-7M85.5 486.13h7M830 486.13h-7M85.5 428.95h7M830 428.95h-7M85.5 371.77h7M830 371.77h-7M85.5 314.59h7M830 314.59h-7" stroke="#000" stroke-width="1.4" fill="none"/>
<g font-family="'Liberation Serif', serif" font-size="28px" fill="#000">
<text transform="translate(73.6,247.8) scale(1,1.06)" text-anchor="end">0.2</text><text transform="translate(73.6,152.4) scale(1,1.06)" text-anchor="end">0.4</text><text transform="translate(73.6,57) scale(1,1.06)" text-anchor="end">0.6</text><text transform="translate(73.6,552.91) scale(1,1.06)" text-anchor="end">1.4</text><text transform="translate(73.6,495.73) scale(1,1.06)" text-anchor="end">1.6</text><text transform="translate(73.6,438.55) scale(1,1.06)" text-anchor="end">1.8</text><text transform="translate(73.6,381.37) scale(1,1.06)" text-anchor="end">2.0</text><text transform="translate(73.6,324.19) scale(1,1.06)" text-anchor="end">2.2</text><text transform="translate(85.5,600.9) scale(1,1.05)" text-anchor="middle">1.2</text><text transform="translate(220.9,600.9) scale(1,1.05)" text-anchor="middle">1.4</text><text transform="translate(356.3,600.9) scale(1,1.05)" text-anchor="middle">1.6</text><text transform="translate(491.7,600.9) scale(1,1.05)" text-anchor="middle">1.8</text><text transform="translate(627.1,600.9) scale(1,1.05)" text-anchor="middle">2.0</text><text transform="translate(762.5,600.9) scale(1,1.05)" text-anchor="middle">2.2</text><text x="433.3" y="623.1" font-style="italic">T</text>
<g transform="translate(21.2,0) rotate(-90)"><text transform="translate(-166.3,0) scale(1.18,1)" font-style="italic">ξ</text><text x="-154" y="7" font-size="23.5px">2</text><text x="-143" y="0" font-style="italic">/</text><text x="-133.8" y="0" font-style="italic">L</text></g>
<text transform="translate(20,448.8) rotate(-90)"><tspan font-style="italic">R</tspan><tspan font-size="22px" dy="7.5">12</tspan></text>
<g stroke="#ff0000" stroke-width="1.5" fill="none"><path d="M118.4 381.9H151.1M118.4 378.2v7.4M151.1 378.2v7.4"/><path d="M131.15 381.9H138.35M134.75 378.3V385.5"/></g><text transform="translate(167.4,391.4) scale(1,1.05)" xml:space="preserve"><tspan font-style="italic">L</tspan> = <tspan dx="-0.9">&#8199;5</tspan></text>
<g stroke="#00a000" stroke-width="1.5" fill="none"><path d="M118.4 415.16H151.1M118.4 411.46v7.4M151.1 411.46v7.4"/><path d="M131.3 411.71L138.2 418.61M131.3 418.61L138.2 411.71"/></g><text transform="translate(167.4,424.66) scale(1,1.05)" xml:space="preserve"><tspan font-style="italic">L</tspan> = <tspan dx="-0.9">&#8199;6</tspan></text>
<g stroke="#0000ff" stroke-width="1.5" fill="none"><path d="M118.4 448.42H151.1M118.4 444.72v7.4M151.1 444.72v7.4"/><path d="M131.15 448.42H138.35M134.75 444.82V452.02"/><path d="M131.3 444.97L138.2 451.87M131.3 451.87L138.2 444.97"/></g><text transform="translate(167.4,457.92) scale(1,1.05)" xml:space="preserve"><tspan font-style="italic">L</tspan> = <tspan dx="-0.9">&#8199;8</tspan></text>
<g stroke="#ff00ff" stroke-width="1.5" fill="none"><path d="M118.4 481.68H151.1M118.4 477.98v7.4M151.1 477.98v7.4"/><rect x="131.1" y="478.03" width="7.3" height="7.3" fill="none"/></g><text transform="translate(167.4,491.18) scale(1,1.05)" xml:space="preserve"><tspan font-style="italic">L</tspan> = <tspan dx="0">10</tspan></text>
<g stroke="#00aeae" stroke-width="1.5" fill="none"><path d="M118.4 514.94H151.1M118.4 511.24v7.4M151.1 511.24v7.4"/><rect x="130.85" y="511.04" width="7.8" height="7.8" fill="#00aeae" stroke="none"/></g><text transform="translate(167.4,524.44) scale(1,1.05)" xml:space="preserve"><tspan font-style="italic">L</tspan> = <tspan dx="0">12</tspan></text>
<g stroke="#c4a000" stroke-width="1.5" fill="none"><path d="M118.4 548.2H151.1M118.4 544.5v7.4M151.1 544.5v7.4"/><circle cx="134.75" cy="548.2" r="3.85" fill="none"/></g><text transform="translate(167.4,557.7) scale(1,1.05)" xml:space="preserve"><tspan font-style="italic">L</tspan> = <tspan dx="0">16</tspan></text>
</g>
</svg>
</body></html>
